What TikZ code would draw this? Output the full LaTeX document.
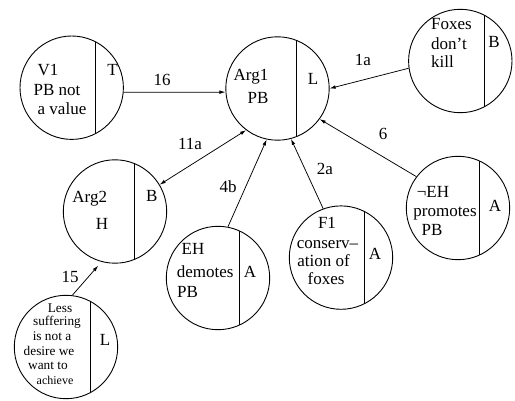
\documentclass[tikz,border=0pt]{standalone}
\usepackage{fontspec}
\setmainfont{Liberation Serif}
\usetikzlibrary{arrows.meta,calc}
\newcommand\argdivider[2]{%
  \pgfmathsetmacro\dvh{sqrt(51.7*51.7-(#2)*(#2))}%
  \draw[divline] ($(#1.center)+(#2,-\dvh)$) -- ($(#1.center)+(#2,\dvh)$);}
\begin{document}
\begin{tikzpicture}[x=1pt,y=-1pt,
  argc/.style={circle,draw,line width=0.9pt,minimum size=103.4pt,inner sep=0pt},
  divline/.style={line width=0.9pt},
  txt/.style={font=\fontsize{17}{20}\selectfont,inner sep=0pt,anchor=mid},
  txtl/.style={txt,anchor=mid west},
  small/.style={font=\fontsize{13.3}{15}\selectfont,inner sep=0pt,anchor=mid},
  tiny/.style={font=\fontsize{12}{14}\selectfont,inner sep=0pt,anchor=mid},
  conn/.style={line width=0.75pt,-{Latex[length=6pt,width=3.6pt]}},
  lab/.style={font=\fontsize{17}{20}\selectfont,inner sep=0pt,anchor=mid}]
\useasboundingbox (0,0) rectangle (515,401);

% circles
\node[argc] (v1) at (71.7,87.7) {};
\node[argc] (arg1) at (277.5,88.5) {};
\node[argc] (foxes) at (460.3,61) {};
\node[argc] (noteh) at (458,208) {};
\node[argc] (f1) at (341,257.6) {};
\node[argc] (eh) at (218,278) {};
\node[argc] (arg2) at (115,211.5) {};
\node[argc] (less) at (66,347) {};

% dividers
\argdivider{v1}{24}
\argdivider{arg1}{19.2}
\argdivider{foxes}{24}
\argdivider{noteh}{21}
\argdivider{f1}{23.3}
\argdivider{eh}{21.3}
\argdivider{arg2}{19}
\argdivider{less}{24.7}

% texts: V1
\node[txt] (v1a) at (48,73) {V1};
\node[txt] (v1b) at (57,93) {PB not};
\node[txt] (v1c) at (62,112) {a value};
\node[txt] (v1t) at (112.5,73) {T};
% Arg1
\node[txt] (a1a) at (251,78) {Arg1};
\node[txt] (a1b) at (258,101) {PB};
\node[txt] (a1l) at (313,82) {L};
% Foxes
\node[txtl] (fxa) at (431,27) {Foxes};
\node[txtl] (fxb) at (431,47) {don’t};
\node[txtl] (fxc) at (431,65) {kill};
\node[txt] (fxl) at (494,45) {B};
% not EH
\node[txt] (nea) at (433,195) {¬EH};
\node[txt] (neb) at (445,214) {promotes};
\node[txt] (nec) at (432,233) {PB};
\node[txt] (nel) at (495,209) {A};
% F1
\node[txt] (f1a) at (327,226) {F1};
\node[txt] (f1b) at (327.5,246) {conserv–};
\node[txt] (f1c) at (323.5,264) {ation of};
\node[txt] (f1d) at (326,282) {foxes};
\node[txt] (f1l) at (375,257) {A};
% EH
\node[txtl] (eha) at (181.5,252) {EH};
\node[txtl] (ehb) at (176.7,275) {demotes};
\node[txtl] (ehc) at (177,295) {PB};
\node[txt] (ehl) at (250,275) {A};
% Arg2
\node[txt] (a2a) at (89.7,200) {Arg2};
\node[txt] (a2b) at (102,227) {H};
\node[txt] (a2l) at (151.7,199) {B};
% Less suffering
\node[small] (lsa) at (60,310) {Less};
\node[small] (lsb) at (57,323) {suffering};
\node[small] (lsc) at (52,338) {is not a};
\node[small] (lsd) at (49,353) {desire we};
\node[small] (lse) at (48,367) {want to};
\node[tiny] (lsf) at (55,382) {achieve};
\node[txt] (lsl) at (105,343) {L};

% connectors
\draw[conn] (v1.-5.5) -- (arg1.184.7);
\draw[conn] (foxes.188.7) -- (arg1.0.5);
\draw[conn] (noteh.143.1) -- (arg1.-36.4);
\draw[conn] (f1.110.9) -- (arg1.-75.6);
\draw[conn] (eh.79.7) -- (arg1.-102.6);
\draw[conn,{Latex[length=6pt,width=3.6pt]}-{Latex[length=6pt,width=3.6pt]}] (arg1.-127.8) -- (arg2.31.2);
\draw[conn,shorten >=5pt] (less.83) -- (arg2.-105);

% labels
\node[lab] (l16) at (162,83) {16};
\node[lab] (l1a) at (363,63) {1a};
\node[lab] (l6) at (383,137) {6};
\node[lab] (l2a) at (325,172) {2a};
\node[lab] (l4b) at (228,190) {4b};
\node[lab] (l11a) at (190,147) {11a};
\node[lab] (l15) at (70,280) {15};
\end{tikzpicture}
\end{document}
